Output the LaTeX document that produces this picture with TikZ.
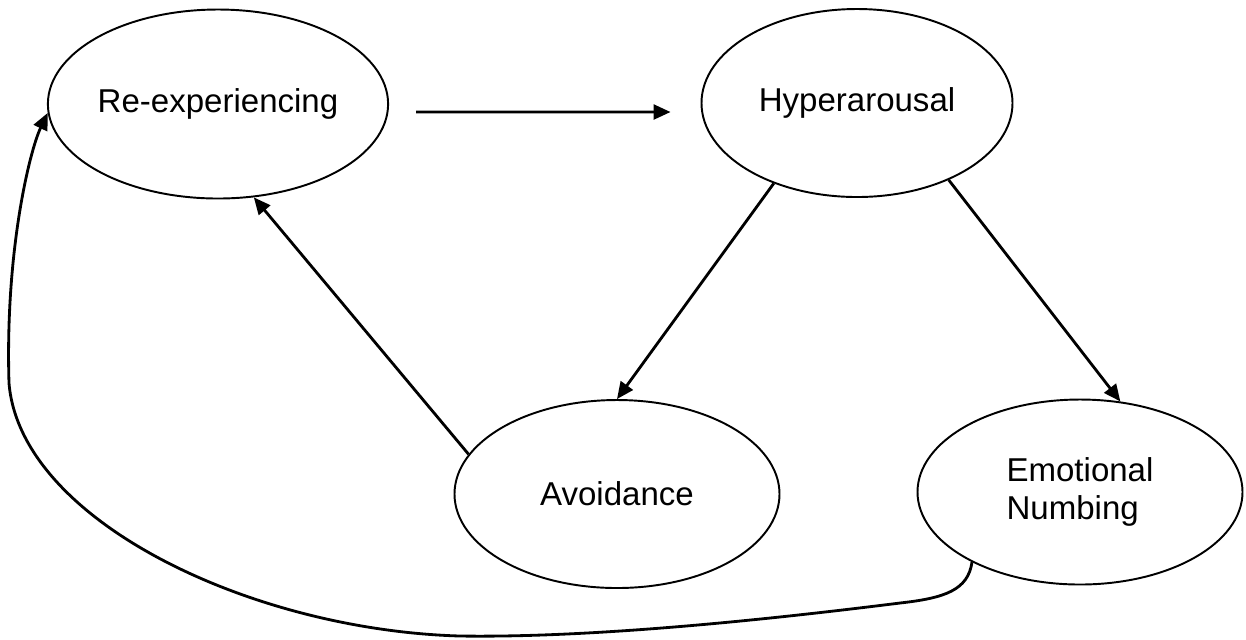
\documentclass[tikz,border=0pt]{standalone}
\usepackage{fontspec}
\setmainfont{Liberation Sans}
\usetikzlibrary{shapes.geometric,arrows.meta}

\begin{document}
\begin{tikzpicture}[x=0.1mm,y=-0.1mm]
	\tikzstyle{every node}+=[inner sep=0pt]
	\tikzstyle{symptom}=[draw=black, ellipse, line width=0.55pt, font=\fontsize{9.4}{10.6}\selectfont]
	\tikzstyle{link}=[draw=black, line width=0.8pt, -{Triangle[length=4.8pt,width=4.2pt]}]
	\useasboundingbox (0,0) rectangle (1246,639);
	\node [symptom, minimum width=33.3mm, minimum height=18.9mm] (reexp) at (218,104) {Re-experiencing};
	\node [symptom, minimum width=31.1mm, minimum height=18.8mm] (hyper) at (857,103) {Hyperarousal};
	\node [symptom, minimum width=32.5mm, minimum height=18.8mm] (avoid) at (617,494) {Avoidance};
	\node [symptom, minimum width=32.5mm, minimum height=18.5mm, align=left] (emot) at (1080,492) {Emotional\\Numbing};
	\draw [link] ([xshift=2.7mm,yshift=-0.8mm]reexp.east) -- ([xshift=-3mm,yshift=-0.9mm]hyper.west);
	\draw [link] (hyper.224) -- (avoid.north);
	\draw [link] (hyper.-40) -- (emot.66);
	\draw [link] (avoid.165) -- (reexp.-69);
	\draw [link] (emot.213) .. controls (968,590) and (945,598) .. (900,603)
		.. controls (780,618) and (600,638) .. (460,636)
		.. controls (250,630) and (20,520) .. (9,383)
		.. controls (5,250) and (30,150) .. (reexp.183);
\end{tikzpicture}
\end{document}
